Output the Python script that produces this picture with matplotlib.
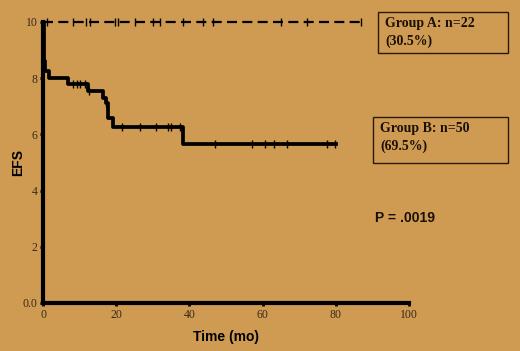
import matplotlib
matplotlib.use("Agg")
import matplotlib.pyplot as plt
from matplotlib.patches import Rectangle

# Group A: no events, flat at 10
a_end = 87.0
a_censor = [1.0, 8.3, 11.7, 12.8, 19.6, 20.6, 25.2, 30.1, 32.0, 38.3, 43.8, 46.5, 64.9, 72.0, 87.0]

# Group B step curve (time, EFS after step)
b_times = [0.0, 0.2, 0.6, 1.6, 6.9, 12.3, 16.4, 17.3, 17.8, 19.2, 38.2, 80.0]
b_values = [10.0, 8.6, 8.25, 8.0, 7.8, 7.55, 7.3, 7.1, 6.6, 6.28, 5.65, 5.65]
b_censor_t = [8.2, 9.3, 10.1, 11.5, 12.7, 17.3, 21.5, 26.5, 31.0, 34.2, 35.1, 37.4,
              47.0, 57.0, 60.6, 63.0, 66.7, 77.5, 79.8]

xticks = [0, 20, 40, 60, 80, 100]
yticks = [0, 2, 4, 6, 8, 10]
ytick_labels = ["0.0", "2", "4", "6", "8", "10"]

bg = "#CF9B52"

def b_at(t):
    v = b_values[0]
    for tt, vv in zip(b_times, b_values):
        if t >= tt:
            v = vv
    return v

fig = plt.figure(figsize=(5.2, 3.51), dpi=100, facecolor=bg)
ax = fig.add_axes([0.0827, 0.1368, 0.7038, 0.8006], facecolor=bg)

ax.plot([0, a_end], [10, 10], color="black", lw=1.6, ls=(0, (4.5, 2.4)), clip_on=False)
ax.plot(a_censor, [10] * len(a_censor), ls="none", marker="|", ms=6, mew=1.0,
        color="black", clip_on=False)

ax.step(b_times, b_values, where="post", color="black", lw=2.7, clip_on=False)
ax.plot(b_censor_t, [b_at(t) for t in b_censor_t], ls="none", marker="|", ms=6, mew=1.0,
        color="black", clip_on=False)

ax.set_xlim(0, 100)
ax.set_ylim(0, 10)
for s in ["top", "right"]:
    ax.spines[s].set_visible(False)
for s in ["left", "bottom"]:
    ax.spines[s].set_linewidth(3.0)
    ax.spines[s].set_color("black")

ax.set_xticks(xticks)
ax.set_xticklabels([str(x) for x in xticks])
ax.set_yticks(yticks)
ax.set_yticklabels(ytick_labels)
ax.tick_params(axis="both", direction="out", length=2, width=2, color="black",
               labelsize=8.5, labelcolor="#3a2a14", pad=2)
for lab in ax.get_xticklabels() + ax.get_yticklabels():
    lab.set_family("Liberation Serif")

ax.set_xlabel("Time (mo)", fontsize=10, fontweight="bold", family="Liberation Sans", labelpad=7)
ax.set_ylabel("EFS", fontsize=10, fontweight="bold", family="Liberation Sans", labelpad=-2)

# Boxes with group labels (figure coords)
def fig_box(x0, y0, x1, y1, text):
    W, H = 520, 351
    r = Rectangle((x0 / W, 1 - y1 / H), (x1 - x0) / W, (y1 - y0) / H,
                  transform=fig.transFigure, fill=False, edgecolor="#2a1a05", lw=1.0)
    fig.add_artist(r)
    fig.text((x0 + 7) / W, 1 - (y0 + 5) / H, text, ha="left", va="top",
             fontsize=10, fontweight="bold", family="Liberation Serif",
             color="#1a1005", linespacing=1.45)

fig_box(378, 12, 508, 53, "Group A: n=22\n(30.5%)")
fig_box(373, 117, 508, 163, "Group B: n=50\n(69.5%)")

fig.text(375 / 520, 1 - 218 / 351, "P = .0019", ha="left", va="center",
         fontsize=10, fontweight="bold", family="Liberation Sans", color="#1a1005")

fig.savefig("out.png", dpi=100, facecolor=bg)
